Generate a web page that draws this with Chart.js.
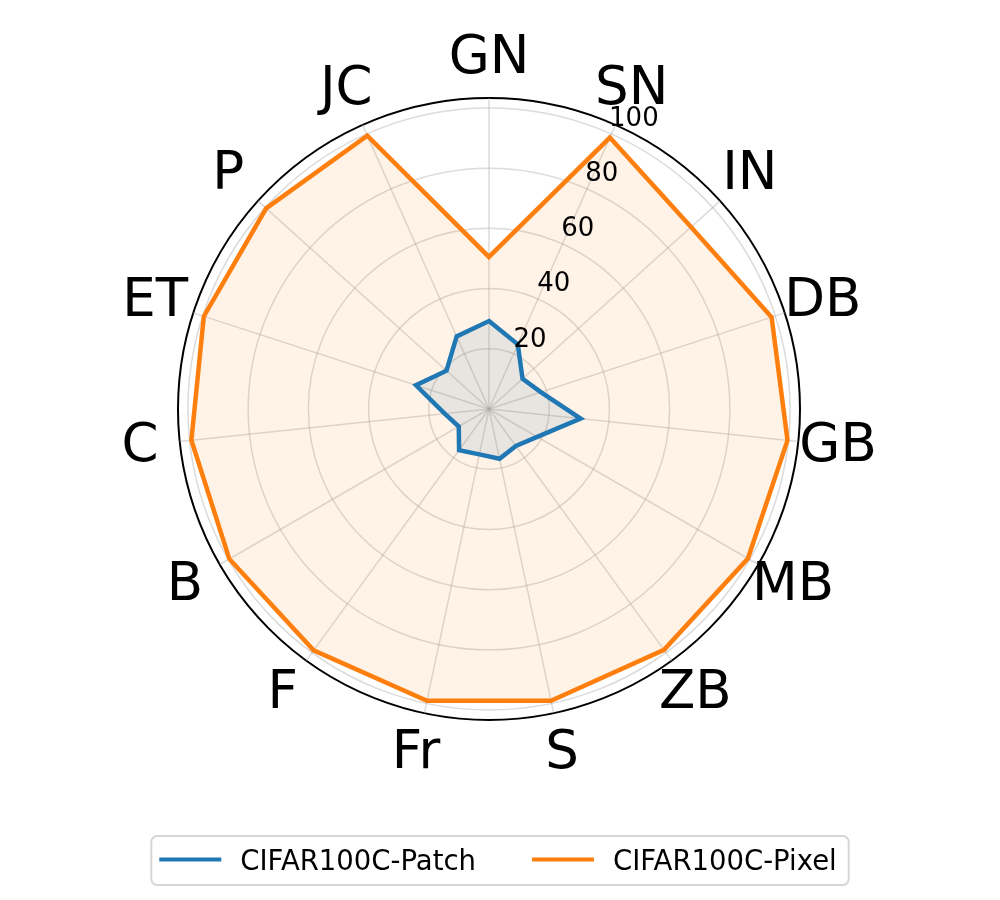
<!DOCTYPE html>
<html>
<head>
<meta charset="utf-8">
<title>CIFAR100C radar</title>
<script src="https://cdn.jsdelivr.net/npm/chart.js@4.4.1/dist/chart.umd.min.js"></script>
<style>
    html, body { margin: 0; padding: 0; background: #ffffff; }
    #wrap { width: 1000px; height: 900px; }
</style>
</head>
<body>
<div id="wrap"><canvas id="radarChart" width="1000" height="900"></canvas></div>
<script>
// corruption types, clockwise from the top
const corruptions = ["GN", "SN", "IN", "DB", "GB", "MB", "ZB", "S", "Fr", "F", "B", "C", "ET", "P", "JC"];

// values
const patchScores = [29.2, 23.5, 15.0, 18.1, 30.6, 18.5, 15.2, 16.9, 15.4, 16.9, 11.6, 14.8, 25.5, 19.0, 26.4];
const pixelScores = [50.5, 98.7, 90.3, 98.7, 99.7, 99.3, 98.9, 99.1, 99.1, 99.1, 99.6, 99.4, 99.6, 99.6, 99.4];

const seriesNames = ["CIFAR100C-Patch", "CIFAR100C-Pixel"];

// radial axis
const rTicks = [20, 40, 60, 80, 100];
const rMax = 103.3;

const FONT = "'DejaVu Sans', sans-serif";
const gridGrey = "rgba(176, 176, 176, 0.45)";

/* -------- overlay: category labels, r tick labels, legend -------- */

const overlayPlugin = {
    id: "overlay",
    afterDraw(chart) {
        const ctx = chart.ctx;
        const r = chart.scales.r;

        ctx.save();
        ctx.fillStyle = "#000000";

        // category labels round the outside
        ctx.font = `53px ${FONT}`;
        ctx.textAlign = "center";
        ctx.textBaseline = "alphabetic";
        corruptions.forEach((name, i) => {
            const p = r.getPointPosition(i, r.drawingArea + 40);
            ctx.fillText(name, p.x, p.y - 4 + 0.365 * 53);
        });

        // radial tick labels along ~23 deg
        const a = 23.4 * Math.PI / 180;
        ctx.font = `26px ${FONT}`;
        ctx.textAlign = "left";
        rTicks.forEach(v => {
            const d = r.getDistanceFromCenterForValue(v);
            ctx.fillText(String(v), r.xCenter + d * Math.sin(a) + 0.5, r.yCenter - d * Math.cos(a) - 7);
        });

        drawLegend(chart, ctx);
        ctx.restore();
    }
};

function roundRectPath(ctx, x, y, w, h, rad) {
    ctx.beginPath();
    ctx.moveTo(x + rad, y);
    ctx.arcTo(x + w, y, x + w, y + h, rad);
    ctx.arcTo(x + w, y + h, x, y + h, rad);
    ctx.arcTo(x, y + h, x, y, rad);
    ctx.arcTo(x, y, x + w, y, rad);
    ctx.closePath();
}

function drawLegend(chart, ctx) {
    const sets = chart.data.datasets;
    const fontSize = 27.5;
    const lineLen = 62, textGap = 19, itemGap = 56, padL = 8, padR = 12;

    ctx.font = `${fontSize}px ${FONT}`;
    const widths = sets.map(ds => ctx.measureText(ds.label).width);

    let total = padL + padR;
    widths.forEach((w, i) => { total += lineLen + textGap + w + (i < widths.length - 1 ? itemGap : 0); });

    const boxX = 500 - total / 2;
    const boxY = 836, boxH = 49;
    const midY = boxY + boxH / 2 - 1;

    roundRectPath(ctx, boxX, boxY, total, boxH, 6);
    ctx.fillStyle = "rgba(255,255,255,0.8)";
    ctx.fill();
    ctx.strokeStyle = "#d6d6d6";
    ctx.lineWidth = 2;
    ctx.stroke();

    let x = boxX + padL;
    sets.forEach((ds, i) => {
        ctx.strokeStyle = ds.borderColor;
        ctx.lineWidth = 4;
        ctx.beginPath();
        ctx.moveTo(x, midY);
        ctx.lineTo(x + lineLen, midY);
        ctx.stroke();
        x += lineLen + textGap;

        ctx.fillStyle = "#000000";
        ctx.textAlign = "left";
        ctx.textBaseline = "alphabetic";
        ctx.fillText(ds.label, x, midY + 0.365 * fontSize);
        x += widths[i] + itemGap;
    });
}

/* -------- chart -------- */

new Chart(document.getElementById("radarChart"), {
    type: "radar",
    data: {
        labels: corruptions,
        datasets: [
            {
                label: seriesNames[0],
                data: patchScores,
                borderColor: "#1f77b4",
                backgroundColor: "rgba(31, 119, 180, 0.1)",
                borderWidth: 4.5,
                pointRadius: 0,
                fill: true,
                tension: 0
            },
            {
                label: seriesNames[1],
                data: pixelScores,
                borderColor: "#ff7f0e",
                backgroundColor: "rgba(255, 127, 14, 0.1)",
                borderWidth: 4.5,
                pointRadius: 0,
                fill: true,
                tension: 0
            }
        ]
    },
    options: {
        responsive: false,
        animation: false,
        layout: { padding: { left: 178, right: 200, top: 98, bottom: 180 } },
        plugins: {
            legend: { display: false },
            tooltip: { enabled: false }
        },
        scales: {
            r: {
                min: 0,
                max: rMax,
                afterBuildTicks: scale => {
                    scale.ticks = [0, ...rTicks, rMax].map(v => ({ value: v }));
                },
                ticks: { display: false },
                pointLabels: { display: false },
                grid: {
                    circular: true,
                    color: c => (c.tick && c.tick.value === rMax) ? "#000000" : gridGrey,
                    lineWidth: c => (c.tick && c.tick.value === rMax) ? 2 : 1.5
                },
                angleLines: { color: gridGrey, lineWidth: 1.5 }
            }
        }
    },
    plugins: [overlayPlugin]
});
</script>
</body>
</html>
